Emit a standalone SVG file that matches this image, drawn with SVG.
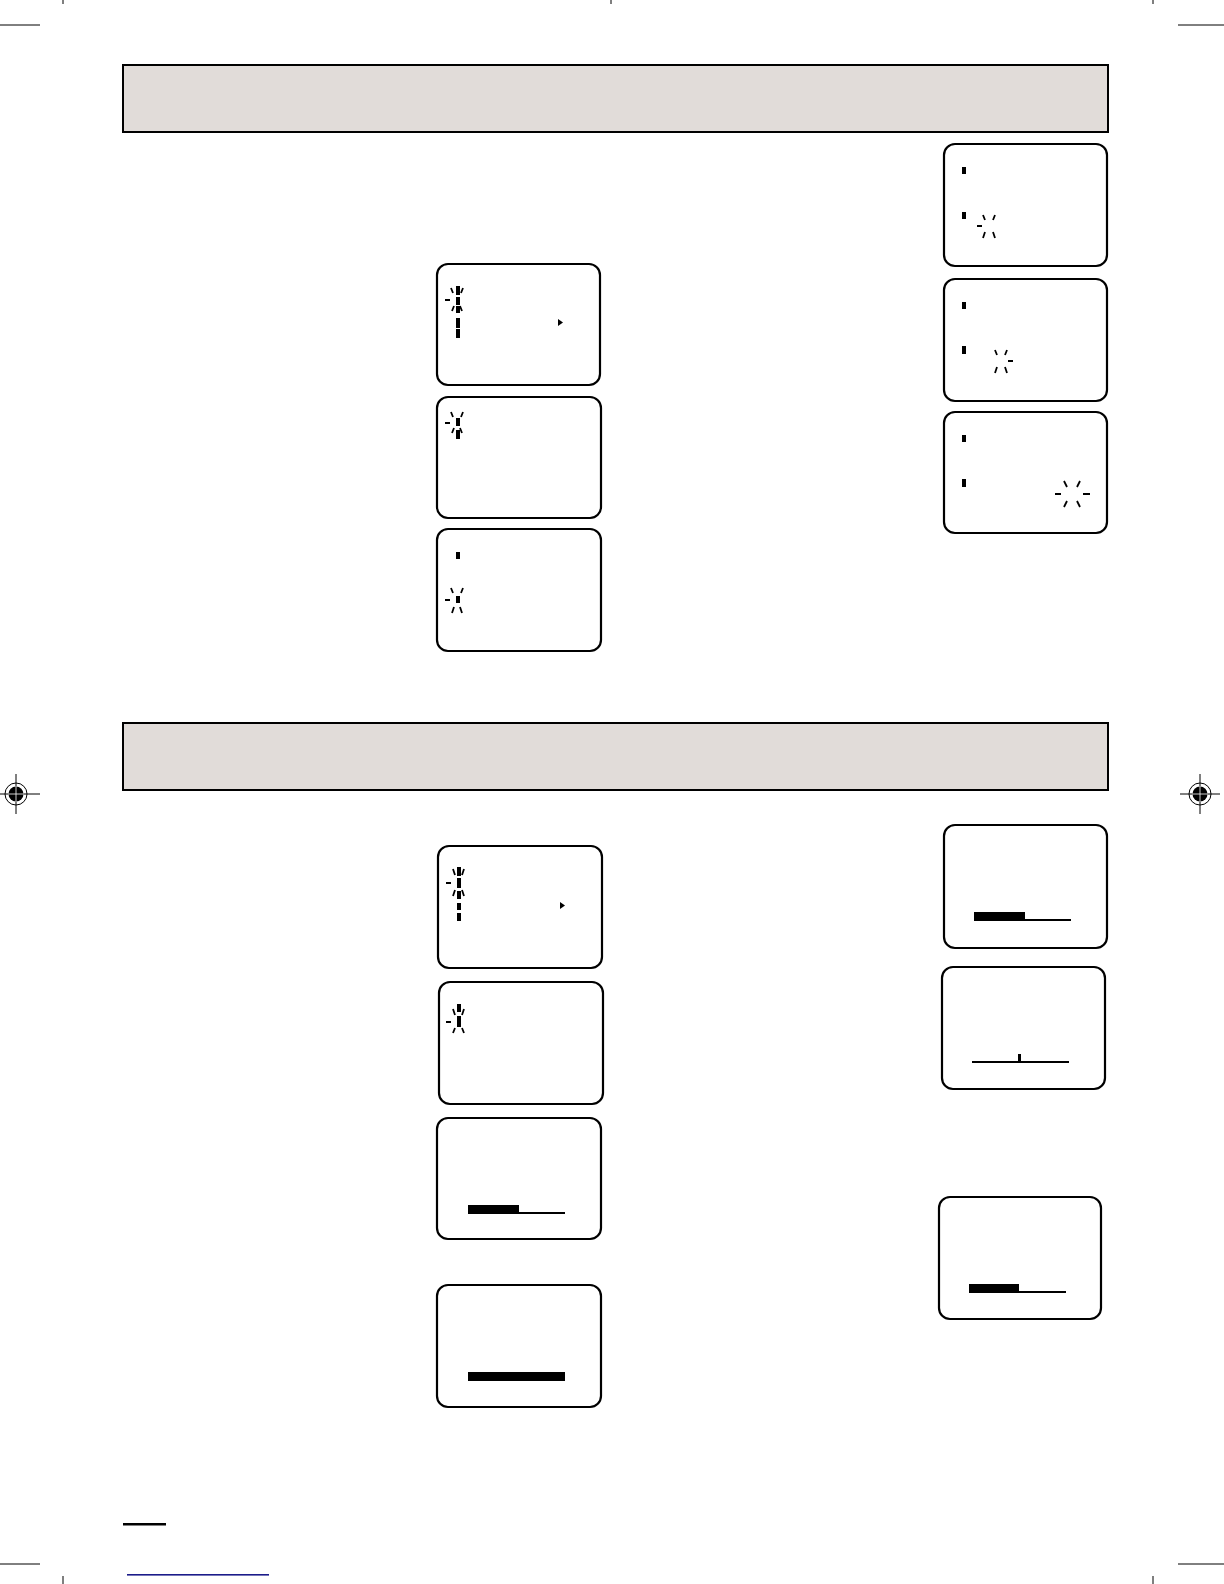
<svg xmlns="http://www.w3.org/2000/svg" width="1224" height="1584" viewBox="0 0 1224 1584">
<style>
.band{fill:#e1dcd9;stroke:#000;stroke-width:2}
.scr{fill:#fff;stroke:#000;stroke-width:2.2}
.ray{stroke:#000;stroke-width:1.8;fill:none}
.blk{fill:#000}
.crop{stroke:#000;stroke-width:1;fill:none}
</style>
<rect width="1224" height="1584" fill="#fff"/>
<g id="cropmarks">
<line class="crop" x1="0" y1="25" x2="40" y2="25"/>
<line class="crop" x1="63" y1="0" x2="63" y2="4"/>
<line class="crop" x1="611" y1="0" x2="611" y2="4"/>
<line class="crop" x1="1153" y1="0" x2="1153" y2="4"/>
<line class="crop" x1="1178" y1="25" x2="1224" y2="25"/>
<line class="crop" x1="0" y1="1564" x2="40" y2="1564"/>
<line class="crop" x1="1178" y1="1564" x2="1224" y2="1564"/>
<line class="crop" x1="63" y1="1576" x2="63" y2="1584"/>
<line class="crop" x1="1153" y1="1576" x2="1153" y2="1584"/>
</g>
<g id="reg-left">
<line class="crop" x1="0" y1="794" x2="40" y2="794"/>
<line class="crop" x1="16" y1="774" x2="16" y2="814"/>
<circle cx="16" cy="794" r="11" fill="none" stroke="#000" stroke-width="1"/>
<circle cx="16" cy="794" r="7.5" fill="#000"/>
<line x1="8" y1="794" x2="24" y2="794" stroke="#fff" stroke-width="0.8"/>
<line x1="16" y1="786" x2="16" y2="802" stroke="#fff" stroke-width="0.8"/>
</g>
<g id="reg-right">
<line class="crop" x1="1180" y1="794" x2="1220" y2="794"/>
<line class="crop" x1="1200" y1="774" x2="1200" y2="814"/>
<circle cx="1200" cy="794" r="11" fill="none" stroke="#000" stroke-width="1"/>
<circle cx="1200" cy="794" r="7.5" fill="#000"/>
<line x1="1192" y1="794" x2="1208" y2="794" stroke="#fff" stroke-width="0.8"/>
<line x1="1200" y1="786" x2="1200" y2="802" stroke="#fff" stroke-width="0.8"/>
</g>
<g id="band1"><rect class="band" x="123" y="65" width="985" height="67"/></g>
<g id="band2"><rect class="band" x="123" y="723" width="985" height="67"/></g>

<g id="screenA">
<rect class="scr" x="437" y="264" width="163" height="121" rx="11"/>
<rect class="blk" x="456" y="286" width="4" height="9"/>
<rect class="blk" x="456" y="297" width="4" height="8"/>
<rect class="blk" x="456" y="306" width="4" height="7"/>
<rect class="blk" x="456" y="318" width="4" height="10"/>
<rect class="blk" x="456" y="329" width="4" height="9"/>
<path class="ray" d="M451 288 L453 293 M463 288 L461 293 M445 300 L450 300 M452 311 L454 306 M462 311 L460 306"/>
<path class="blk" d="M558 319 L563 322.5 L558 326 Z"/>
</g>
<g id="screenB">
<rect class="scr" x="437" y="397" width="164" height="121" rx="11"/>
<rect class="blk" x="456" y="418" width="4" height="8"/>
<rect class="blk" x="456" y="430" width="4" height="9"/>
<path class="ray" d="M451 412 L453 417 M463 412 L461 417 M445 423 L450 423 M452 433 L454 428 M462 433 L460 428"/>
</g>
<g id="screenC">
<rect class="scr" x="437" y="529" width="164" height="122" rx="11"/>
<rect class="blk" x="456" y="552" width="4" height="7"/>
<rect class="blk" x="456" y="596" width="4" height="7"/>
<path class="ray" d="M451 588 L453 593 M463 588 L461 593 M445 600 L450 600 M452 613 L454 607 M462 613 L460 607"/>
</g>
<g id="screenD">
<rect class="scr" x="944" y="144" width="163" height="122" rx="11"/>
<rect class="blk" x="962" y="167" width="4" height="7"/>
<rect class="blk" x="962" y="212" width="4" height="7"/>
<path class="ray" d="M983 215 L985 220 M995 215 L993 220 M977 226 L982 226 M983 238 L985 232 M995 238 L993 232"/>
</g>
<g id="screenE">
<rect class="scr" x="944" y="279" width="163" height="122" rx="11"/>
<rect class="blk" x="962" y="302" width="4" height="7"/>
<rect class="blk" x="962" y="346" width="4" height="8"/>
<path class="ray" d="M995 350 L997 355 M1007 350 L1005 355 M1008 361 L1013 361 M995 373 L997 367 M1007 373 L1005 367"/>
</g>
<g id="screenF">
<rect class="scr" x="944" y="412" width="163" height="121" rx="11"/>
<rect class="blk" x="962" y="435" width="4" height="7"/>
<rect class="blk" x="962" y="479" width="4" height="8"/>
<path class="ray" d="M1064 481 L1067 487 M1080 481 L1077 487 M1055 494 L1061 494 M1083 494 L1090 494 M1064 507 L1067 501 M1080 507 L1077 501"/>
</g>

<g id="screenG">
<rect class="scr" x="438" y="846" width="164" height="122" rx="11"/>
<rect class="blk" x="457" y="867" width="4" height="9"/>
<rect class="blk" x="457" y="878" width="4" height="10"/>
<rect class="blk" x="457" y="891" width="4" height="8"/>
<rect class="blk" x="457" y="903" width="4" height="7"/>
<rect class="blk" x="457" y="913" width="4" height="8"/>
<path class="ray" d="M453 869 L455 875 M464 869 L462 875 M446 883 L451 883 M453 896 L455 890 M464 896 L462 890"/>
<path class="blk" d="M560 902 L565 905.5 L560 909 Z"/>
</g>
<g id="screenH">
<rect class="scr" x="439" y="982" width="164" height="122" rx="11"/>
<rect class="blk" x="457" y="1004" width="4" height="8"/>
<rect class="blk" x="457" y="1016" width="4" height="11"/>
<path class="ray" d="M453 1009 L455 1015 M464 1009 L462 1015 M446 1022 L451 1022 M453 1033 L455 1028 M464 1033 L462 1028"/>
</g>
<g id="screenI">
<rect class="scr" x="437" y="1118" width="164" height="121" rx="11"/>
<rect class="blk" x="468" y="1205" width="51" height="9"/>
<rect class="blk" x="519" y="1212" width="46" height="2"/>
</g>
<g id="screenJ">
<rect class="scr" x="437" y="1285" width="164" height="122" rx="11"/>
<rect class="blk" x="468" y="1372" width="97" height="9"/>
</g>
<g id="screenK">
<rect class="scr" x="944" y="825" width="163" height="123" rx="11"/>
<rect class="blk" x="974" y="912" width="51" height="9"/>
<rect class="blk" x="1025" y="919" width="46" height="2"/>
</g>
<g id="screenL">
<rect class="scr" x="942" y="967" width="163" height="122" rx="11"/>
<rect class="blk" x="972" y="1061" width="97" height="2"/>
<rect class="blk" x="1018" y="1054" width="3" height="8"/>
</g>
<g id="screenM">
<rect class="scr" x="939" y="1197" width="162" height="122" rx="11"/>
<rect class="blk" x="969" y="1284" width="50" height="9"/>
<rect class="blk" x="1019" y="1291" width="47" height="2"/>
</g>
<g id="footer">
<rect class="blk" x="123" y="1523" width="43" height="2.5"/>
<rect x="127" y="1574" width="142" height="1.6" fill="#1c1c8a"/>
</g>
</svg>
